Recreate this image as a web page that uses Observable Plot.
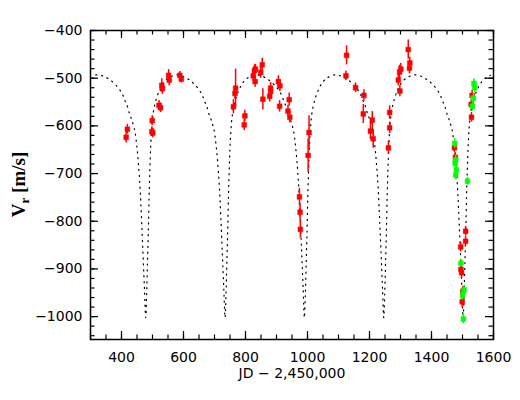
<!DOCTYPE html>
<html><head><meta charset="utf-8">
<script src="https://cdn.jsdelivr.net/npm/d3@7"></script>
<script src="https://cdn.jsdelivr.net/npm/@observablehq/plot@0.6"></script>
<style>html,body{margin:0;padding:0;background:#fff}#chart svg{display:block}</style>
</head><body><div id="chart"></div>
<script>
// ---- observations (red) ----
const redT = [415,419,499,498,501,521,526,530,532,552,554,588,593,
  761,766,768,798,796,825,829,832,831,849,854,856,878,881,881,906,911,910,941,937,943,974,976,977,1005,1002,
  1126,1124,1155,1182,1180,1203,1209,1212,1265,1265,1261,1293,1297,1301,1298,1325,1330,1329,
  1474,1477,1510,1510,1494,1495,1497,1501,1499,1531,1528,1529];
const redV = [-624,-607,-589,-612,-615,-557,-562,-515,-522,-494,-504,-494,-502,
  -560,-532,-521,-579,-598,-495,-484,-481,-507,-488,-472,-544,-538,-528,-521,-507,-516,-559,-545,-569,-582,-749,-781,-817,-614,-662,
  -452,-495,-520,-536,-575,-611,-588,-627,-572,-604,-646,-504,-487,-481,-527,-440,-468,-479,
  -646,-666,-821,-842,-854,-901,-908,-947,-969,-536,-555,-582];
const redErr = [12,10,10,10,10,10,10,14,12,12,12,8,8,
  15,12,40,12,12,12,12,10,12,12,14,22,12,12,12,12,12,12,14,12,12,18,18,18,35,35,
  20,10,10,12,20,18,18,20,14,12,14,12,14,12,12,20,12,12,
  10,10,10,10,10,10,12,10,12,10,10,10];
// ---- observations (green) ----
const greenT = [1475,1478,1476,1480,1478,1516,1495,1505,1500,1503,1537,1539,1535,1532];
const greenV = [-637,-671,-678,-692,-703,-716,-888,-944,-955,-1005,-511,-520,-542,-559];
const greenErr = [10,10,10,10,10,8,8,10,10,10,10,10,10,10];
// ---- orbital model curve (dotted) ----
const modelT = [317,338,359.5,381,395,406,413,420,426,433,439,444,449,454,460,465,469.5,474,478,
  481,484,487,489,491.5,494,497.5,502,508,515,523,533,546,562,578,594,615.5,637,651,662,669,676,682,689,695,700,705,710,716,721,725.5,730,734,
  737,740,743,745,747.5,750,753.5,758,764,771,779,789,802,818,834,850,871.5,893,907,918,925,932,938,945,951,956,961,966,972,977,981.5,986,990,
  993,996,999,1001,1003.5,1006,1009.5,1014,1020,1027,1035,1045,1058,1074,1090,1106,1127.5,1149,1163,1174,1181,1188,1194,1201,1207,1212,1217,1222,1228,1233,1237.5,1242,1246,
  1249,1252,1255,1257,1259.5,1262,1265.5,1270,1276,1283,1291,1301,1314,1330,1346,1362,1383.5,1405,1419,1430,1437,1444,1450,1457,1463,1468,1473,1478,1484,1489,1493.5,1498,1502,
  1505,1508,1511,1513,1515.5,1518,1521.5,1526,1532,1539,1547,1557,1570,1590];
const modelV = [-493,-495,-502,-514,-525,-538,-550,-561,-575,-587,-600,-614,-640,-675,-731,-801,-871,-941,-1002,
  -955,-882,-808,-748,-692,-646,-604,-575,-554,-538,-525,-512,-502,-496,-493,-495,-502,-514,-525,-538,-550,-561,-575,-587,-600,-614,-640,-675,-731,-801,-871,-941,-1002,
  -955,-882,-808,-748,-692,-646,-604,-575,-554,-538,-525,-512,-502,-496,-493,-495,-502,-514,-525,-538,-550,-561,-575,-587,-600,-614,-640,-675,-731,-801,-871,-941,-1002,
  -955,-882,-808,-748,-692,-646,-604,-575,-554,-538,-525,-512,-502,-496,-493,-495,-502,-514,-525,-538,-550,-561,-575,-587,-600,-614,-640,-675,-731,-801,-871,-941,-1002,
  -955,-882,-808,-748,-692,-646,-604,-575,-554,-538,-525,-512,-502,-496,-493,-495,-502,-514,-525,-538,-550,-561,-575,-587,-600,-614,-640,-675,-731,-801,-871,-941,-1002,
  -955,-882,-808,-748,-692,-646,-604,-575,-554,-538,-525,-512,-502,-494];
// ---- axes ----
const xTickLabels = [400,600,800,1000,1200,1400,1600];
const yTickLabels = [-1000,-900,-800,-700,-600,-500,-400];
const xMajorTicks = [400,600,800,1000,1200,1400,1600];
const xMinorTicks = [300,350,400,450,500,550,600,650,700,750,800,850,900,950,1000,1050,1100,1150,1200,1250,1300,1350,1400,1450,1500,1550,1600];
const yMajorTicks = [-1000,-900,-800,-700,-600,-500,-400];
const yMinorTicks = [-1040,-1020,-1000,-980,-960,-940,-920,-900,-880,-860,-840,-820,-800,-780,-760,-740,-720,-700,-680,-660,-640,-620,-600,-580,-560,-540,-520,-500,-480,-460,-440,-420,-400];
const xTitle = "JD \u2212 2,450,000";
const yTitleMain = "V", yTitleSub = "r", yTitleUnit = " [m/s]";

const red = redT.map((t, i) => ({t, v: redV[i], e: redErr[i]}));
const green = greenT.map((t, i) => ({t, v: greenV[i], e: greenErr[i]}));
const model = modelT.map((t, i) => ({t, v: modelV[i]}));

const W = 520, H = 400, mL = 90, mR = 27, mT = 30, mB = 61;
const innerW = W - mL - mR, innerH = H - mT - mB;
const majLen = 8, minLen = 4.5;
const RED = "#ff0000", GREEN = "#00ff00";

const chart = Plot.plot({
  width: W, height: H,
  marginLeft: mL, marginRight: mR, marginTop: mT, marginBottom: mB,
  x: {domain: [300, 1600], label: null},
  y: {domain: [-1048, -400], label: null},
  style: {fontFamily: "DejaVu Sans", fontSize: "14px", background: "#fff", color: "#000"},
  marks: [
    Plot.line(model, {x: "t", y: "v", stroke: "#000", strokeWidth: 1.2, strokeDasharray: "1.1 4.8", curve: "monotone-x"}),
    Plot.ruleX(red, {x: "t", y1: d => d.v - d.e, y2: d => d.v + d.e, stroke: RED, strokeWidth: 1.5}),
    Plot.dot(red, {x: "t", y: "v", symbol: "square", r: 2.7, fill: RED, stroke: RED, strokeWidth: 0.5}),
    Plot.ruleX(green, {x: "t", y1: d => d.v - d.e, y2: d => d.v + d.e, stroke: GREEN, strokeWidth: 1.5}),
    Plot.dot(green, {x: "t", y: "v", symbol: "square", r: 2.7, fill: GREEN, stroke: GREEN, strokeWidth: 0.5}),
    // inward ticks on all four sides
    Plot.tickX(xMinorTicks, {x: d => d, insetTop: innerH - minLen, stroke: "#000", strokeWidth: 1.2}),
    Plot.tickX(xMinorTicks, {x: d => d, insetBottom: innerH - minLen, stroke: "#000", strokeWidth: 1.2}),
    Plot.tickX(xMajorTicks, {x: d => d, insetTop: innerH - majLen, stroke: "#000", strokeWidth: 1.2}),
    Plot.tickX(xMajorTicks, {x: d => d, insetBottom: innerH - majLen, stroke: "#000", strokeWidth: 1.2}),
    Plot.tickY(yMinorTicks, {y: d => d, insetRight: innerW - minLen, stroke: "#000", strokeWidth: 1.2}),
    Plot.tickY(yMinorTicks, {y: d => d, insetLeft: innerW - minLen, stroke: "#000", strokeWidth: 1.2}),
    Plot.tickY(yMajorTicks, {y: d => d, insetRight: innerW - majLen, stroke: "#000", strokeWidth: 1.2}),
    Plot.tickY(yMajorTicks, {y: d => d, insetLeft: innerW - majLen, stroke: "#000", strokeWidth: 1.2}),
    Plot.frame({stroke: "#000", strokeWidth: 1.5}),
    Plot.axisX(xTickLabels, {tickSize: 0, tickPadding: 13, tickFormat: d => String(d), label: null, fontSize: 14}),
    Plot.axisY(yTickLabels, {tickSize: 0, tickPadding: 8, tickFormat: d => "\u2212" + Math.abs(d), label: null, fontSize: 14}),
    Plot.text([xTitle], {frameAnchor: "bottom", dy: 38, fontSize: 14, fill: "#000", letterSpacing: 1})
  ]
});

const svg = d3.select(chart);
const yt = svg.append("text")
  .attr("transform", `translate(25,${mT + innerH / 2}) rotate(-90)`)
  .attr("text-anchor", "middle")
  .attr("font-family", "Liberation Serif, DejaVu Serif, serif")
  .attr("font-weight", "bold")
  .attr("font-size", 19)
  .attr("fill", "#000");
yt.append("tspan").text(yTitleMain);
yt.append("tspan").attr("font-size", 13).attr("dy", 4).text(yTitleSub);
yt.append("tspan").attr("dy", -4).text(yTitleUnit);

document.getElementById("chart").appendChild(chart);
</script>
</body></html>
